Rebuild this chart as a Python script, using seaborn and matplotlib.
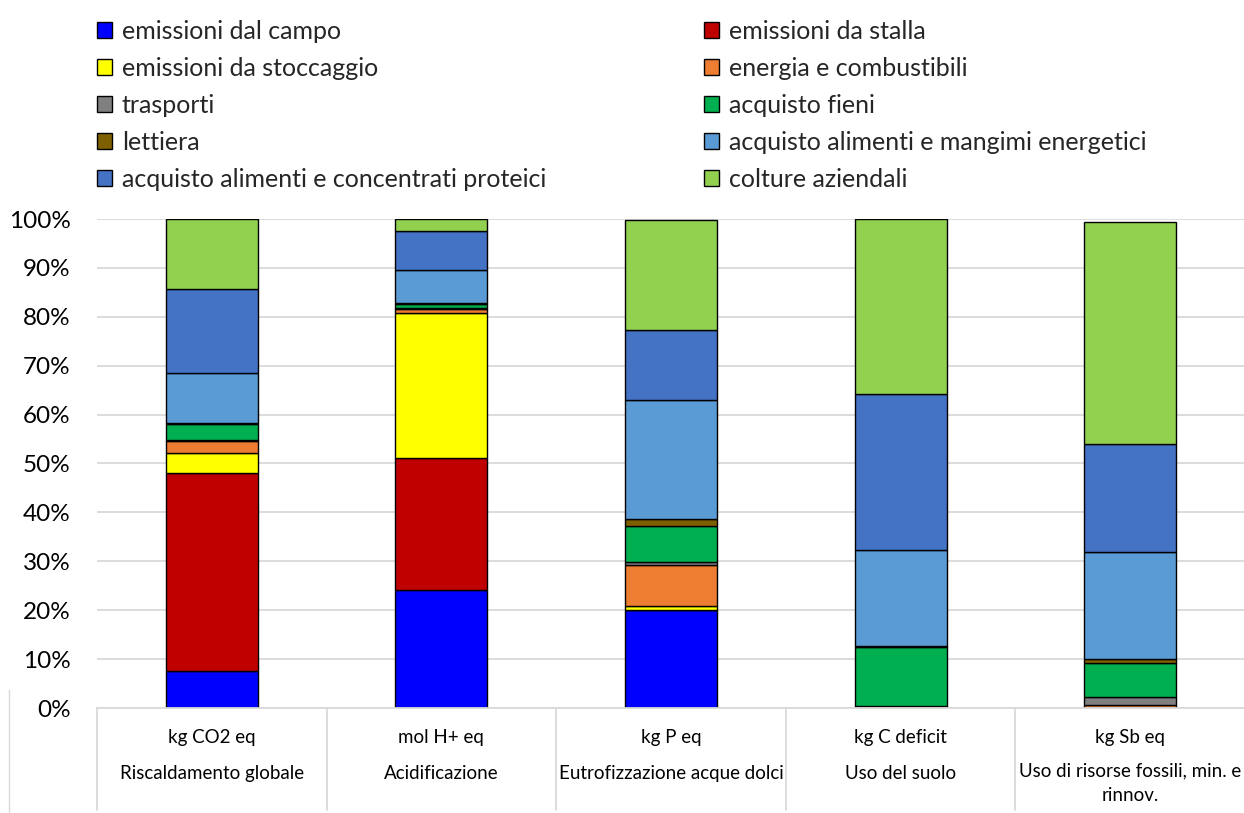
import matplotlib
matplotlib.use("Agg")
import matplotlib.pyplot as plt
from matplotlib.patches import Patch
from matplotlib.lines import Line2D
from matplotlib.ticker import PercentFormatter, MultipleLocator
import seaborn as sns
import pandas as pd
import numpy as np

# ---- data (percent contributions) ----
units = ["kg CO2 eq", "mol H+ eq", "kg P eq", "kg C deficit", "kg Sb eq"]
categories = ["Riscaldamento globale", "Acidificazione", "Eutrofizzazione acque dolci",
              "Uso del suolo", "Uso di risorse fossili, min. e\nrinnov."]

series_names = ["emissioni dal campo", "emissioni da stalla", "emissioni da stoccaggio",
                "energia e combustibili", "trasporti", "acquisto fieni", "lettiera",
                "acquisto alimenti e mangimi energetici",
                "acquisto alimenti e concentrati proteici", "colture aziendali"]

campo      = [7.5, 24.2, 20.1, 0.0, 0.0]
stalla     = [40.6, 27.0, 0.0, 0.0, 0.0]
stoccaggio = [4.1, 29.5, 0.7, 0.0, 0.0]
energia    = [2.4, 0.8, 8.4, 0.4, 0.6]
trasporti  = [0.2, 0.3, 0.6, 0.1, 1.7]
fieni      = [3.2, 0.8, 7.5, 12.0, 6.9]
lettiera   = [0.3, 0.2, 1.4, 0.2, 0.8]
energetici = [10.2, 6.7, 24.2, 19.6, 21.9]
proteici   = [17.2, 8.1, 14.5, 31.9, 22.0]
colture    = [14.3, 2.5, 22.3, 35.8, 45.5]

colors = ["#0000FF", "#C00000", "#FFFF00", "#ED7D31", "#7F7F7F",
          "#00B050", "#7F6000", "#5B9BD5", "#4472C4", "#92D050"]

series_values = [campo, stalla, stoccaggio, energia, trasporti,
                 fieni, lettiera, energetici, proteici, colture]

# ---- figure ----
sns.set_theme(style="white")
plt.rcParams["font.family"] = ["Lato", "DejaVu Sans"]

W, H = 1244, 813
fig = plt.figure(figsize=(W / 100, H / 100), dpi=100)
ax = fig.add_axes([97 / W, 1 - 708 / H, (1245 - 97) / W, (708 - 219) / H])

keys = [f"c{i}" for i in range(len(categories))]
bottom = np.zeros(len(categories))
for name, vals, col in zip(series_names, series_values, colors):
    v = np.array(vals) / 100.0
    df = pd.DataFrame({"cat": keys, "val": v})
    sns.barplot(data=df, x="cat", y="val", order=keys, color=col, width=0.40,
                bottom=bottom.copy(), edgecolor="black", linewidth=1.0,
                saturation=1, ax=ax, errorbar=None)
    bottom += v

ax.set_ylim(0, 1.0)
ax.set_xlim(-0.5, len(categories) - 0.5)
ax.yaxis.set_major_locator(MultipleLocator(0.1))
ax.yaxis.set_major_formatter(PercentFormatter(1.0, decimals=0))
ax.grid(axis="y", color="#d9d9d9", linewidth=1.3)
ax.set_axisbelow(True)
for s in ["top", "right", "left"]:
    ax.spines[s].set_visible(False)
ax.spines["bottom"].set_color("#d9d9d9")
ax.spines["bottom"].set_linewidth(1.3)
ax.tick_params(axis="y", length=0, pad=19, labelsize=17.5, labelcolor="black")
ax.set_xticks([])
ax.set_xlabel("")
ax.set_ylabel("")

# category separators and two-level labels
ax_h_px = 708 - 219
trans = ax.get_xaxis_transform()
for i in range(len(categories) + 1):
    ax.add_line(Line2D([i - 0.5, i - 0.5], [0, -(810 - 708) / ax_h_px], transform=trans,
                       color="#d9d9d9", linewidth=1.3, clip_on=False))
for i, (u, c) in enumerate(zip(units, categories)):
    ax.text(i, -(737 - 708) / ax_h_px, u, transform=trans, ha="center", va="center",
            fontsize=13.5, color="black")
    if "\n" in c:
        ax.text(i, -(762 - 708) / ax_h_px, c, transform=trans, ha="center", va="top",
                fontsize=13.5, color="black", linespacing=1.55)
    else:
        ax.text(i, -(773 - 708) / ax_h_px, c, transform=trans, ha="center", va="center",
                fontsize=13.5, color="black")

# left border line of chart area near the bottom
fig.add_artist(Line2D([9 / W, 9 / W], [0, 1 - 690 / H], color="#d9d9d9", linewidth=1.0))

# ---- legends (two columns) ----
handles = [Patch(facecolor=c, edgecolor="black", linewidth=1.0) for c in colors]
leg_kw = dict(frameon=False, fontsize=18, handlelength=0.6, handleheight=0.6,
              handletextpad=0.4, labelspacing=0.56, borderaxespad=0, borderpad=0,
              loc="upper left")
left_idx = [0, 2, 4, 6, 8]
right_idx = [1, 3, 5, 7, 9]
leg1 = fig.legend([handles[i] for i in left_idx], [series_names[i] for i in left_idx],
                  bbox_to_anchor=(97 / W, 1 - 20 / H), **leg_kw)
leg2 = fig.legend([handles[i] for i in right_idx], [series_names[i] for i in right_idx],
                  bbox_to_anchor=(704 / W, 1 - 20 / H), **leg_kw)

fig.savefig("out.png", dpi=100, facecolor="white")
